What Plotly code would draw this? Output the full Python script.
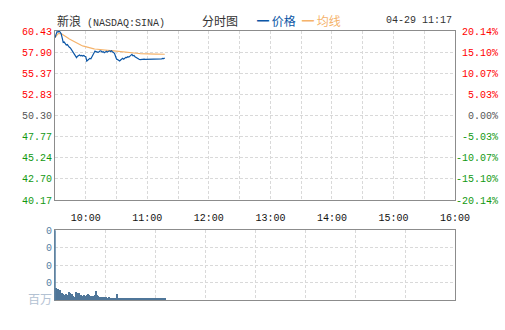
import pandas as pd
import plotly.graph_objects as go

# ---------------- data ----------------
price = [59.63, 59.95, 60.35, 60.30, 60.43, 60.30, 60.10, 59.60, 59.05, 59.10,
         58.90, 58.75, 58.80, 58.60, 58.47, 58.40, 58.20, 57.95, 57.85, 57.63,
         57.40, 57.23, 57.40, 57.45, 57.55, 57.45, 57.50, 57.43, 57.50, 57.40,
         57.35, 56.83, 56.95, 57.05, 57.15, 57.10, 57.30, 57.55, 57.75, 58.03,
         57.95, 57.90, 57.87, 57.95, 58.05, 58.03, 57.90, 57.95, 57.83, 57.90,
         58.00, 57.90, 57.95, 58.05, 57.98, 58.07, 57.95, 57.85, 57.75, 57.40,
         57.07, 57.00, 56.90, 56.83, 56.95, 57.05, 57.15, 57.05, 57.20, 57.27,
         57.25, 57.35, 57.30, 57.43, 57.55, 57.63, 57.45, 57.50, 57.35, 57.25,
         57.15, 57.10, 57.05, 57.00, 57.03, 57.03, 57.03, 57.05, 57.03, 57.03,
         57.05, 57.05, 57.03, 57.05, 57.07, 57.07, 57.05, 57.10, 57.07, 57.07,
         57.10, 57.05, 57.11, 57.08, 57.10, 57.15, 57.12, 57.19]

avg_price = [59.63, 59.80, 60.00, 60.10, 60.15, 60.15, 60.12, 60.05, 59.95, 59.85,
             59.78, 59.70, 59.63, 59.55, 59.47, 59.40, 59.33, 59.25, 59.18, 59.10,
             59.03, 58.96, 58.90, 58.85, 58.80, 58.75, 58.70, 58.65, 58.61, 58.57,
             58.53, 58.49, 58.45, 58.42, 58.39, 58.36, 58.33, 58.31, 58.29, 58.27,
             58.25, 58.23, 58.21, 58.20, 58.18, 58.17, 58.15, 58.14, 58.13, 58.12,
             58.10, 58.09, 58.08, 58.08, 58.07, 58.07, 58.06, 58.05, 58.04, 58.02,
             58.00, 57.99, 57.97, 57.95, 57.94, 57.93, 57.92, 57.91, 57.90, 57.89,
             57.89, 57.88, 57.88, 57.87, 57.87, 57.86, 57.85, 57.84, 57.83, 57.80,
             57.77, 57.75, 57.73, 57.71, 57.70, 57.70, 57.69, 57.69, 57.68, 57.68,
             57.68, 57.67, 57.67, 57.67, 57.66, 57.66, 57.66, 57.66, 57.65, 57.65,
             57.65, 57.65, 57.64, 57.64, 57.64, 57.64, 57.64, 57.64]

# volume, thousand shares per minute
volume = [40, 68, 57, 63, 46, 57, 34, 40, 34, 28,
          28, 34, 23, 28, 46, 40, 28, 34, 23, 17,
          46, 40, 34, 40, 23, 28, 23, 17, 28, 23,
          23, 28, 34, 28, 23, 17, 23, 17, 23, 28,
          51, 28, 23, 17, 17, 11, 17, 11, 17, 11,
          17, 11, 11, 17, 11, 11, 6, 11, 11, 11,
          34, 11, 11, 6, 11, 11, 11, 6, 11, 6,
          6, 11, 6, 6, 6, 11, 6, 6, 6, 6,
          6, 11, 6, 11, 6, 6, 6, 6, 6, 6,
          11, 6, 6, 11, 6, 6, 11, 6, 6, 6,
          6, 6, 11, 6, 6, 6, 6, 11]

prev_close = 50.30
price_ticks = [60.43, 57.90, 55.37, 52.83, 50.30, 47.77, 45.24, 42.70, 40.17]
pct_ticks = [20.14, 15.10, 10.07, 5.03, 0.00, -5.03, -10.07, -15.10, -20.14]
hour_labels = ["10:00", "11:00", "12:00", "13:00", "14:00", "15:00", "16:00"]
vol_ticks = [0, 100, 200, 300, 400]
vol_labels = ["百万", "0", "0", "0", "0"]

times = pd.date_range("2011-04-29 09:30", periods=len(price), freq="min")
day = "2011-04-29 "
hour_vals = [day + h for h in hour_labels]

RED = "#ff0000"
GREEN = "#119911"
GRAY = "#555555"
FRAME = "#8c8c8c"
GRID = "#d9d9d9"
VOLC = "#557fa3"
MONO = "Liberation Mono, DejaVu Sans Mono, monospace"
CJK = "Noto Sans CJK SC"


def col_for(v, ref):
    if abs(v - ref) < 1e-9:
        return GRAY
    return RED if v > ref else GREEN


price_text = [f'<span style="color:{col_for(v, prev_close)}">{v:.2f}</span>' for v in price_ticks]
pct_text = []
for v in pct_ticks:
    s = f"{v:.2f}%".rjust(7).replace(" ", "\u00a0")
    pct_text.append(f'<span style="color:{col_for(v, 0)}">{s}</span>')
vol_text = [f'<span style="color:#b3c2d3;font-family:{CJK};font-size:12px">{t}</span>' if t == "百万"
            else f'<span style="color:{VOLC}">{t}</span>' for t in vol_labels]

fig = go.Figure()
fig.add_trace(go.Scatter(x=times, y=avg_price, mode="lines",
                         line=dict(color="#f5b36b", width=1.2), xaxis="x", yaxis="y"))
fig.add_trace(go.Scatter(x=times, y=price, mode="lines",
                         line=dict(color="#0b56a6", width=1.2), xaxis="x", yaxis="y"))
# invisible trace so that the percent axis is drawn
fig.add_trace(go.Scatter(x=[times[0]], y=[0], mode="markers", marker=dict(opacity=0),
                         xaxis="x", yaxis="y2"))
fig.add_trace(go.Bar(x=times, y=volume, marker=dict(color="#4f7699", line=dict(width=0)),
                     xaxis="x2", yaxis="y3"))

W, H = 505, 330
x0, x1 = 55 / W, 455 / W
xr = [day + "09:30", day + "16:00"]

fig.update_layout(
    template="none",
    width=W, height=H, autosize=False, margin=dict(l=0, r=0, t=0, b=0, pad=0),
    paper_bgcolor="white", plot_bgcolor="white", showlegend=False,
    hovermode=False, bargap=0,
    font=dict(family=MONO, size=10, color=GRAY),
    xaxis=dict(domain=[x0, x1], anchor="y", type="date", range=xr, automargin=False,
               tickvals=hour_vals, ticktext=hour_labels, ticks="",
               tickfont=dict(color="#111111", size=10, family=MONO),
               ticklabelstandoff=8,
               showgrid=True, gridcolor=GRID, griddash="3px,2px", gridwidth=1,
               minor=dict(dtick=30 * 60 * 1000, tick0=day + "09:30", showgrid=True,
                          gridcolor=GRID, griddash="3px,2px", gridwidth=1, ticks=""),
               showline=True, linecolor=FRAME, linewidth=1, mirror=True, zeroline=False),
    yaxis=dict(domain=[1 - 200 / H, 1 - 31 / H], anchor="x", range=[40.17, 60.43], automargin=False,
               tickvals=price_ticks, ticktext=price_text, ticks="",
               tickfont=dict(size=10, family=MONO),
               showgrid=True, gridcolor=GRID, griddash="3px,2px", gridwidth=1,
               showline=True, linecolor=FRAME, linewidth=1, mirror=True, zeroline=False),
    yaxis2=dict(overlaying="y", side="right", anchor="x", range=[-20.14, 20.14], automargin=False,
                tickvals=pct_ticks, ticktext=pct_text, ticks="",
                tickfont=dict(size=10, family=MONO),
                showgrid=False, zeroline=False, showline=False),
    xaxis2=dict(domain=[x0, x1], anchor="y3", type="date", range=xr, automargin=False,
                showticklabels=False, ticks="",
                dtick=2925000, tick0=day + "09:30",
                showgrid=True, gridcolor=GRID, griddash="3px,2px", gridwidth=1,
                showline=True, linecolor=FRAME, linewidth=1, mirror=True, zeroline=False),
    yaxis3=dict(domain=[1 - 300.3 / H, 1 - 230.3 / H], anchor="x2", range=[0, 400], automargin=False,
                tickvals=vol_ticks, ticktext=vol_text, ticks="",
                tickfont=dict(size=10, family=MONO),
                showgrid=True, gridcolor=GRID, griddash="3px,2px", gridwidth=1,
                showline=True, linecolor=FRAME, linewidth=1, mirror=True, zeroline=False),
)

# left blue axis line of the volume panel
fig.add_shape(type="line", xref="paper", yref="paper", x0=x0, x1=x0,
              y0=1 - 300.3 / H, y1=1 - 230.3 / H, line=dict(color=VOLC, width=1.5))

title_y = 1 - 21 / H
fig.add_annotation(xref="paper", yref="paper", x=55 / W, y=title_y, xanchor="left", yanchor="middle",
                   showarrow=False,
                   text=f'<span style="font-family:{CJK};font-size:12px">新浪</span> (NASDAQ:SINA)',
                   font=dict(family=MONO, size=10, color="#333333"))
fig.add_annotation(xref="paper", yref="paper", x=200 / W, y=title_y, xanchor="left", yanchor="middle",
                   showarrow=False, text="分时图",
                   font=dict(family=CJK, size=12, color="#333333"))
fig.add_annotation(xref="paper", yref="paper", x=255 / W, y=title_y, xanchor="left", yanchor="middle",
                   showarrow=False, text="━ 价格",
                   font=dict(family=CJK, size=12, color="#0b56a6"))
fig.add_annotation(xref="paper", yref="paper", x=300 / W, y=title_y, xanchor="left", yanchor="middle",
                   showarrow=False, text="━ 均线",
                   font=dict(family=CJK, size=12, color="#f5b36b"))
fig.add_annotation(xref="paper", yref="paper", x=454 / W, y=title_y, xanchor="right", yanchor="middle",
                   showarrow=False, text="04-29 11:17",
                   font=dict(family=MONO, size=10, color="#333333"))

post = ("document.body.style.margin='0';document.body.style.overflow='hidden';"
        "var gd=document.getElementById('{plot_id}');"
        "Plotly.relayout(gd,{width:505,height:330});")
fig.write_html("out.html", post_script=post)
